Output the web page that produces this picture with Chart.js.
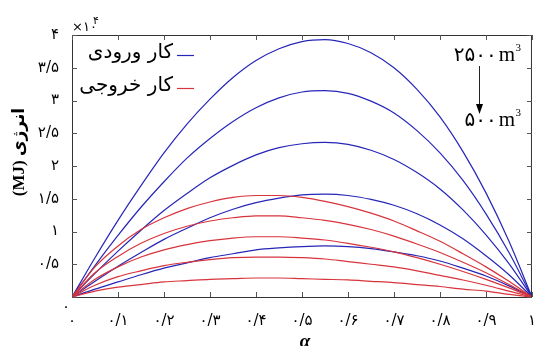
<!DOCTYPE html>
<html lang="fa">
<head>
<meta charset="utf-8">
<title>کار ورودی و خروجی</title>
<script src="https://cdn.jsdelivr.net/npm/chart.js"></script>
<style>
  html, body { margin: 0; padding: 0; background: #fff; }
</style>
</head>
<body>
<canvas id="chart" width="543" height="346"></canvas>
<script>
// alpha values (x axis)
const alpha = [0, 0.05, 0.1, 0.15, 0.2, 0.25, 0.3, 0.35, 0.4, 0.45, 0.5,
               0.55, 0.6, 0.65, 0.7, 0.75, 0.8, 0.85, 0.9, 0.95, 1];

// input work (x10^4 MJ), tank volume 2500 -> 500 m3
const inputWork2500 = [0, 0.60, 1.17, 1.70, 2.20, 2.64, 3.02, 3.35, 3.61, 3.79, 3.90, 3.93, 3.87, 3.73, 3.50, 3.17, 2.75, 2.22, 1.59, 0.85, 0];
const inputWork2000 = [0, 0.48, 0.94, 1.37, 1.76, 2.12, 2.42, 2.68, 2.89, 3.04, 3.13, 3.15, 3.11, 2.99, 2.81, 2.54, 2.20, 1.78, 1.27, 0.68, 0];
const inputWork1500 = [0, 0.36, 0.70, 1.02, 1.32, 1.58, 1.82, 2.01, 2.17, 2.28, 2.34, 2.36, 2.33, 2.24, 2.10, 1.90, 1.65, 1.33, 0.95, 0.51, 0];
const inputWork1000 = [0, 0.24, 0.47, 0.68, 0.88, 1.05, 1.21, 1.34, 1.44, 1.51, 1.56, 1.57, 1.55, 1.49, 1.40, 1.27, 1.10, 0.89, 0.63, 0.34, 0];
const inputWork500  = [0, 0.12, 0.23, 0.34, 0.44, 0.52, 0.60, 0.66, 0.72, 0.75, 0.77, 0.78, 0.77, 0.74, 0.69, 0.63, 0.55, 0.44, 0.32, 0.17, 0];

// output work (x10^4 MJ)
const outputWork2500 = [0, 0.46, 0.78, 1.03, 1.21, 1.35, 1.45, 1.52, 1.55, 1.55, 1.52, 1.46, 1.38, 1.28, 1.16, 1.01, 0.85, 0.66, 0.46, 0.24, 0];
const outputWork2000 = [0, 0.37, 0.62, 0.82, 0.97, 1.08, 1.16, 1.21, 1.24, 1.24, 1.21, 1.17, 1.11, 1.03, 0.93, 0.81, 0.68, 0.53, 0.37, 0.19, 0];
const outputWork1500 = [0, 0.27, 0.46, 0.61, 0.72, 0.80, 0.86, 0.90, 0.92, 0.92, 0.90, 0.87, 0.82, 0.76, 0.69, 0.60, 0.50, 0.39, 0.27, 0.14, 0];
const outputWork1000 = [0, 0.18, 0.31, 0.40, 0.48, 0.53, 0.57, 0.60, 0.61, 0.61, 0.60, 0.58, 0.54, 0.50, 0.46, 0.40, 0.33, 0.26, 0.18, 0.09, 0];
const outputWork500  = [0, 0.09, 0.15, 0.19, 0.23, 0.25, 0.27, 0.28, 0.29, 0.29, 0.28, 0.27, 0.26, 0.24, 0.22, 0.19, 0.16, 0.12, 0.09, 0.04, 0];

const xTicks = [0, 0.1, 0.2, 0.3, 0.4, 0.5, 0.6, 0.7, 0.8, 0.9, 1];
const yTicks = [0, 0.5, 1, 1.5, 2, 2.5, 3, 3.5, 4];

const BLUE = '#2626b8';
const RED = '#d8343c';

const faDigits = '۰۱۲۳۴۵۶۷۸۹';
function toFa(v) {
  return String(v).replace('.', '/').replace(/\d/g, d => faDigits[d]);
}

function series(values, color) {
  return {
    data: values.map((v, i) => ({ x: alpha[i], y: v })),
    borderColor: color,
    borderWidth: 1.2,
    pointRadius: 0,
    fill: false,
    cubicInterpolationMode: 'monotone'
  };
}

// frame, inward ticks, titles, legend and the volume arrow
const decor = {
  id: 'decor',
  afterDraw(chart) {
    const ctx = chart.ctx;
    const a = chart.chartArea;
    const xs = chart.scales.x, ys = chart.scales.y;
    ctx.save();

    ctx.strokeStyle = '#333';
    ctx.lineWidth = 1;
    ctx.strokeRect(a.left + 0.5, a.top + 0.5, a.right - a.left - 1, a.bottom - a.top);

    ctx.strokeStyle = '#555';
    ctx.beginPath();
    xTicks.forEach(v => {
      const px = Math.round(xs.getPixelForValue(v)) + 0.5;
      ctx.moveTo(px, a.bottom); ctx.lineTo(px, a.bottom - 5);
      ctx.moveTo(px, a.top); ctx.lineTo(px, a.top + 5);
    });
    yTicks.forEach(v => {
      const py = Math.round(ys.getPixelForValue(v)) + 0.5;
      ctx.moveTo(a.left, py); ctx.lineTo(a.left + 5, py);
      ctx.moveTo(a.right, py); ctx.lineTo(a.right - 5, py);
    });
    ctx.stroke();

    ctx.fillStyle = '#000';
    // y zero label sits lower than the rest
    ctx.font = '15px "DejaVu Sans"';
    ctx.textAlign = 'center';
    ctx.textBaseline = 'middle';
    ctx.fillText('۰', 66, 307);

    // x10^4 multiplier
    ctx.font = '13px "DejaVu Sans"';
    ctx.textAlign = 'left';
    ctx.fillText('×۱۰', 72, 28);
    ctx.font = '11px "DejaVu Sans"';
    ctx.fillText('۴', 93, 21);

    // y axis title
    ctx.save();
    ctx.translate(20, 152);
    ctx.rotate(-Math.PI / 2);
    ctx.font = 'bold 17px "Liberation Serif", "DejaVu Sans"';
    ctx.textAlign = 'center';
    ctx.fillText('(MJ) انرژی', 0, 0);
    ctx.restore();

    // x axis title
    ctx.font = 'bold italic 19px "Liberation Serif"';
    ctx.textAlign = 'center';
    ctx.fillText('α', 305, 342);

    // legend
    ctx.font = '20px "DejaVu Sans"';
    ctx.textAlign = 'right';
    ctx.fillText('کار ورودی', 173, 53);
    ctx.fillText('کار خروجی', 173, 86);
    ctx.lineWidth = 1.2;
    ctx.strokeStyle = BLUE;
    ctx.beginPath(); ctx.moveTo(177, 55.5); ctx.lineTo(194, 55.5); ctx.stroke();
    ctx.strokeStyle = RED;
    ctx.beginPath(); ctx.moveTo(177, 88.5); ctx.lineTo(194, 88.5); ctx.stroke();

    // volume annotation
    function volume(num, y) {
      ctx.textBaseline = 'alphabetic';
      ctx.textAlign = 'right';
      ctx.font = '11px "Liberation Serif"';
      ctx.fillText('3', 521, y - 10);
      ctx.font = '21px "Liberation Serif"';
      ctx.fillText('m', 515, y);
      const mw = ctx.measureText('m').width;
      ctx.font = '20px "DejaVu Sans"';
      ctx.fillText(num, 515 - mw - 2, y);
    }
    volume('۲۵۰۰', 61);
    volume('۵۰۰', 126);

    ctx.strokeStyle = '#222';
    ctx.lineWidth = 1;
    ctx.beginPath(); ctx.moveTo(479.5, 66); ctx.lineTo(479.5, 106); ctx.stroke();
    ctx.beginPath();
    ctx.moveTo(476, 104); ctx.lineTo(483, 104); ctx.lineTo(479.5, 114);
    ctx.closePath(); ctx.fill();

    ctx.restore();
  }
};

new Chart(document.getElementById('chart'), {
  type: 'line',
  data: {
    datasets: [
      series(outputWork2500, RED),
      series(outputWork2000, RED),
      series(outputWork1500, RED),
      series(outputWork1000, RED),
      series(outputWork500, RED),
      series(inputWork2500, BLUE),
      series(inputWork2000, BLUE),
      series(inputWork1500, BLUE),
      series(inputWork1000, BLUE),
      series(inputWork500, BLUE)
    ]
  },
  options: {
    responsive: false,
    animation: false,
    layout: { padding: { top: 35, right: 5, left: 0, bottom: 0 } },
    plugins: { legend: { display: false }, tooltip: { enabled: false } },
    scales: {
      x: {
        type: 'linear', min: 0, max: 1,
        grid: { display: false }, border: { display: false },
        afterBuildTicks: s => { s.ticks = xTicks.map(v => ({ value: v })); },
        afterFit: s => { s.height = 49; },
        ticks: {
          padding: 7, color: '#000', maxRotation: 0, autoSkip: false,
          font: { family: 'DejaVu Sans', size: 15 },
          callback: v => toFa(v)
        }
      },
      y: {
        min: 0, max: 4,
        grid: { display: false }, border: { display: false },
        afterBuildTicks: s => { s.ticks = yTicks.map(v => ({ value: v })); },
        afterFit: s => { s.width = 72; },
        ticks: {
          padding: 5, color: '#000', autoSkip: false,
          font: { family: 'DejaVu Sans', size: 15 },
          callback: v => v === 0 ? '' : toFa(v)
        }
      }
    }
  },
  plugins: [decor]
});
</script>
</body>
</html>
